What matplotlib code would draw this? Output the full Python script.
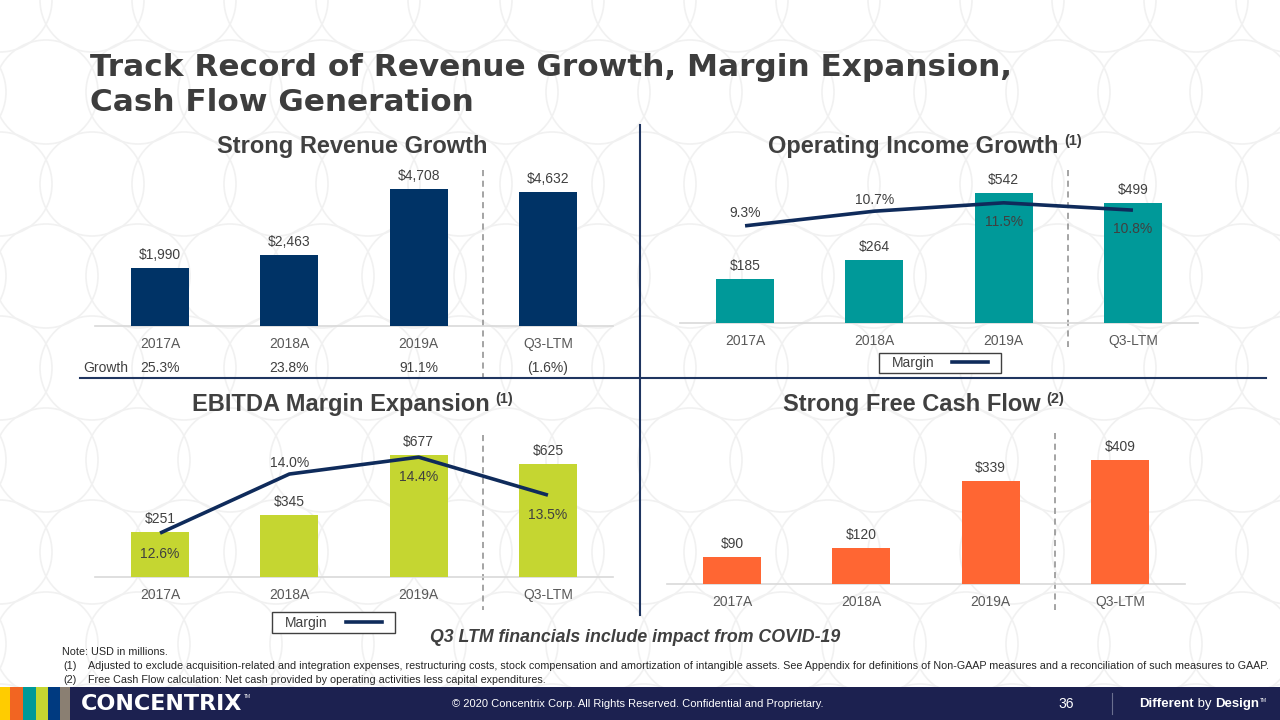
import matplotlib
matplotlib.use('Agg')
import matplotlib.pyplot as plt
from matplotlib.patches import Circle, Rectangle
from matplotlib.lines import Line2D
from matplotlib.text import Annotation
import matplotlib.transforms as mtransforms

plt.rcParams['font.family'] = ['Liberation Sans', 'DejaVu Sans']

# ---------------- data ----------------
categories = ['2017A', '2018A', '2019A', 'Q3-LTM']
revenue = [1990, 2463, 4708, 4632]
revenue_growth = ['25.3%', '23.8%', '91.1%', '(1.6%)']
op_income = [185, 264, 542, 499]
op_margin = [9.3, 10.7, 11.5, 10.8]
ebitda = [251, 345, 677, 625]
ebitda_margin = [12.6, 14.0, 14.4, 13.5]
fcf = [90, 120, 339, 409]

# ---------------- styles ----------------
W, H = 1280, 720
TXT = '#404040'
TICK = '#595959'
NAVY_LINE = '#0f2b5b'
DIV = '#1f3560'
C_REV = '#003366'
C_OP = '#009999'
C_EB = '#c5d631'
C_FCF = '#ff6633'

fig = plt.figure(figsize=(12.8, 7.2), dpi=100, facecolor='white')


def fx(x):
    return x / W


def fy(y):
    return 1 - y / H


def px_axes(x0, y0, x1, y1, **kw):
    return fig.add_axes([x0 / W, 1 - y1 / H, (x1 - x0) / W, (y1 - y0) / H], **kw)


def fig_annot(text, anchor, xy=(1, 1), xytext=(0, 0), **kw):
    a = Annotation(text, xy=xy, xycoords=anchor, xytext=xytext,
                   textcoords='offset points', annotation_clip=False, **kw)
    fig.add_artist(a)
    return a


# ---------------- background circle pattern ----------------
bg = px_axes(0, 0, W, H, zorder=-10)
bg.set_xlim(0, W)
bg.set_ylim(H, 0)
bg.axis('off')
step = 92
for r in range(-1, 10):
    cy = r * step
    off = (step / 2) if r % 2 else 0
    cx = -step + off
    while cx < W + step:
        bg.add_patch(Circle((cx, cy), 52, fill=False, ec='#f1f1f1', lw=1.2))
        cx += step

# ---------------- helpers ----------------
def pt(px):
    return px * 0.72


def bar_panel(x0, x1, ytop, base, scale, values, color):
    ax = px_axes(x0, ytop, x1, base)
    ax.patch.set_alpha(0)
    xs = list(range(len(values)))
    ax.bar(xs, values, width=0.45, color=color, zorder=3)
    ax.set_xlim(-0.5, 3.5)
    ax.set_ylim(0, (base - ytop) / scale)
    for s in ['top', 'left', 'right']:
        ax.spines[s].set_visible(False)
    ax.spines['bottom'].set_color('#d9d9d9')
    ax.spines['bottom'].set_linewidth(1.2)
    ax.set_yticks([])
    ax.set_xticks(xs, categories)
    ax.tick_params(axis='x', length=0, pad=8, labelsize=10, labelcolor=TICK)
    for i, v in enumerate(values):
        ax.annotate(f'${v:,}', (i, v), xytext=(0, pt(13)), textcoords='offset points',
                    ha='center', va='center', fontsize=10, color=TXT)
    return ax


def dashed(ax, y0, y1):
    tr = mtransforms.blended_transform_factory(ax.transData, fig.transFigure)
    ax.plot([2.5, 2.5], [fy(y0), fy(y1)], transform=tr, color='#8c8c8c', lw=1.1,
            ls=(0, (4, 3)), clip_on=False, zorder=1)


def margin_line(ax, margins, lo, px_per, height_px, offsets):
    ax2 = ax.twinx()
    ax2.plot(range(len(margins)), margins, color=NAVY_LINE, lw=2.6, zorder=5,
             solid_capstyle='butt')
    ax2.set_ylim(lo, lo + height_px / px_per)
    ax2.axis('off')
    for i, (m, o) in enumerate(zip(margins, offsets)):
        ax2.annotate(f'{m:.1f}%', (i, m), xytext=(0, pt(o)), textcoords='offset points',
                     ha='center', va='center', fontsize=10, color=TXT, zorder=6)
    return ax2


def margin_legend(cx, cy, w, h):
    fig.patches.append(Rectangle((fx(cx - w / 2), fy(cy + h / 2)), w / W, h / H,
                                 transform=fig.transFigure, fc='white', ec='#404040',
                                 lw=1.0, zorder=5))
    leg = fig.legend(handles=[Line2D([], [], color=NAVY_LINE, lw=2.6)], labels=['Margin'],
                     loc='center', bbox_to_anchor=(fx(cx), fy(cy)), frameon=False,
                     markerfirst=False, handlelength=2.6, handletextpad=1.3,
                     fontsize=10, borderpad=0.1)
    for t in leg.get_texts():
        t.set_color(TXT)
    leg.set_zorder(6)


# ---------------- panel 1: revenue ----------------
ax1 = bar_panel(95.4, 612.6, 160, 326, 136.5 / 4708, revenue, C_REV)
dashed(ax1, 170, 378)
for i, g in enumerate(revenue_growth):
    ax1.annotate(g, (i, 0), xytext=(0, -pt(42)), textcoords='offset points',
                 ha='center', va='center', fontsize=10, color=TXT)
fig.text(fx(83), fy(368), 'Growth', ha='left', va='center', fontsize=10, color=TXT)

# ---------------- panel 2: operating income ----------------
ax2 = bar_panel(680.4, 1197.6, 150, 323, 130.0 / 542, op_income, C_OP)
dashed(ax2, 170, 347)
margin_line(ax2, op_margin, 0.0, 10.45, 323 - 150, [13, 11, -19, -19])
margin_legend(940, 363, 122, 20)

# ---------------- panel 3: EBITDA ----------------
ax3 = bar_panel(95.4, 612.6, 420, 577, 122.0 / 677, ebitda, C_EB)
dashed(ax3, 435, 610)
margin_line(ax3, ebitda_margin, 11.56, 42.2, 577 - 420, [-21, 11, -20, -20])
margin_legend(333.5, 622.5, 123, 21)

# ---------------- panel 4: free cash flow ----------------
ax4 = bar_panel(667.4, 1184.6, 430, 584, 124.0 / 409, fcf, C_FCF)
dashed(ax4, 433, 610)

# ---------------- titles ----------------
fig.text(fx(90), fy(76), 'Track Record of Revenue Growth, Margin Expansion,',
         fontsize=22.4, fontweight='bold', color='#3d3d3d', va='baseline', ha='left',
         family=['DejaVu Sans'])
fig.text(fx(90), fy(111), 'Cash Flow Generation',
         fontsize=22.4, fontweight='bold', color='#3d3d3d', va='baseline', ha='left',
         family=['DejaVu Sans'])


def panel_title(cx, cy, text, sup=None):
    t = fig.text(fx(cx), fy(cy), text, fontsize=17, fontweight='bold', color=TXT,
                 ha='center', va='center')
    if sup:
        fig_annot(sup, t, xy=(1, 1), xytext=(4, 0), ha='left', va='top',
                  fontsize=10.5, fontweight='bold', color=TXT)
    return t


panel_title(352, 146, 'Strong Revenue Growth')
panel_title(913, 146, 'Operating Income Growth', '(1)')
panel_title(341, 404, 'EBITDA Margin Expansion', '(1)')
panel_title(912, 404, 'Strong Free Cash Flow', '(2)')

# ---------------- dividers ----------------
fig.add_artist(Line2D([fx(640), fx(640)], [fy(125), fy(615)], color=DIV, lw=1.5))
fig.add_artist(Line2D([fx(80), fx(1266)], [fy(378), fy(378)], color=DIV, lw=1.5))

# ---------------- notes ----------------
NOTE = 7.78
fig.text(fx(635), fy(638), 'Q3 LTM financials include impact from COVID-19', ha='center',
         va='center', fontsize=12.8, fontweight='bold', fontstyle='italic', color=TXT)
fig.text(fx(62), fy(652), 'Note: USD in millions.', fontsize=NOTE, color='#262626',
         va='center', ha='left')
fig.text(fx(63), fy(666), '(1)', fontsize=NOTE, color='#262626', va='center', ha='left')
fig.text(fx(88), fy(666), 'Adjusted to exclude acquisition-related and integration expenses, '
         'restructuring costs, stock compensation and amortization of intangible assets. '
         'See Appendix for definitions of Non-GAAP measures and a reconciliation of such '
         'measures to GAAP.', fontsize=NOTE, color='#262626', va='center', ha='left')
fig.text(fx(63), fy(680), '(2)', fontsize=NOTE, color='#262626', va='center', ha='left')
fig.text(fx(88), fy(680), 'Free Cash Flow calculation: Net cash provided by operating '
         'activities less capital expenditures.', fontsize=NOTE, color='#262626',
         va='center', ha='left')

# ---------------- footer ----------------
fig.patches.append(Rectangle((0, 0), 1, fy(687), transform=fig.transFigure,
                             fc='#1c2150', ec='none', zorder=1))
stripes = [(0, 10, '#ffcc00'), (10, 23, '#f26522'), (23, 36, '#009999'),
           (36, 48, '#c5d631'), (48, 60, '#003a80'), (60, 70, '#8a7f72')]
for a, b, c in stripes:
    fig.patches.append(Rectangle((fx(a), 0), (b - a) / W, fy(687), transform=fig.transFigure,
                                 fc=c, ec='none', zorder=2))
logo = fig.text(fx(81), fy(704), 'CONCENTRIX', fontsize=16, fontweight='bold',
                color='white', va='center', ha='left', family=['DejaVu Sans'])
fig_annot('TM', logo, xy=(1, 1), xytext=(1, 0), ha='left', va='top', fontsize=3.5,
          color='white', zorder=4)
fig.text(fx(638), fy(704), '\u00a9 2020 Concentrix Corp. All Rights Reserved. '
         'Confidential and Proprietary.', fontsize=8, color='white', va='center', ha='center')
fig.text(fx(1066), fy(704), '36', fontsize=10, color='white', va='center', ha='center')
fig.add_artist(Line2D([fx(1112), fx(1112)], [fy(693), fy(714)], color='#6a6f8f', lw=0.8))
t1 = fig.text(fx(1139), fy(704), 'Different', fontsize=9.5, fontweight='bold', color='white',
              va='center', ha='left')
t2 = fig_annot(' by ', t1, xy=(1, 0.5), va='center', ha='left', fontsize=9.5,
               color='white', zorder=4)
t3 = fig_annot('Design', t2, xy=(1, 0.5), va='center', ha='left', fontsize=9.5,
               fontweight='bold', color='white', zorder=4)
fig_annot('TM', t3, xy=(1, 1), xytext=(0.5, 0), va='top', ha='left', fontsize=3.5,
          color='white', zorder=4)

fig.savefig('out.png', dpi=100, facecolor='white')
